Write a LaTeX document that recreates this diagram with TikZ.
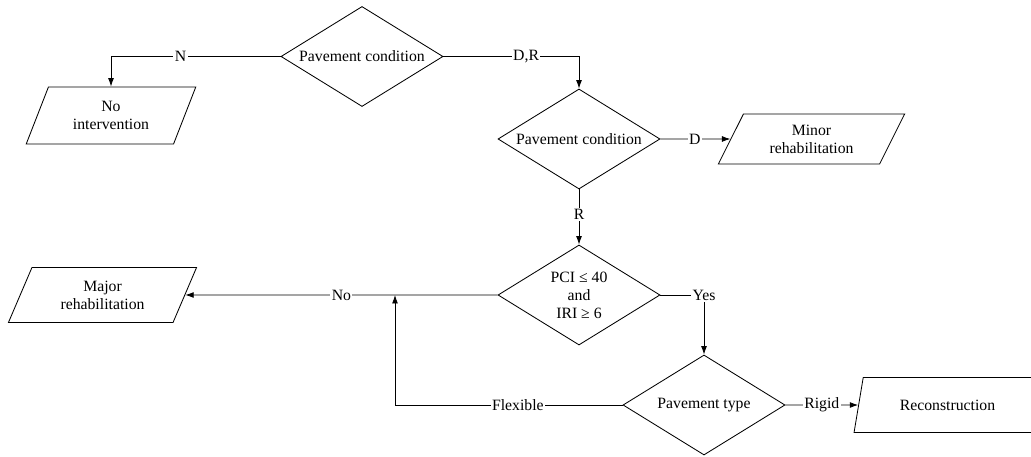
\documentclass[tikz,border=0pt]{standalone}
\usepackage{fontspec}
\setmainfont{Liberation Serif}
\usetikzlibrary{shapes.geometric,arrows.meta}

\begin{document}
\begin{tikzpicture}[x=0.025cm,y=-0.025cm,
  font=\fontsize{11.2}{12.8}\selectfont,
  line width=0.6pt,
  decision/.style={draw, diamond, aspect=1.6, inner sep=0pt, minimum width=4.05cm,
    minimum height=2.5cm, align=center},
  io/.style={draw, trapezium, trapezium stretches=true, inner sep=0pt, align=center},
  lbl/.style={fill=white, inner sep=1pt},
  arr/.style={-{Latex[length=6pt,width=4.2pt]}}]

\useasboundingbox (0,0) rectangle (1031,457);

% decisions
\node[decision] (cond1) at (362,56.5) {Pavement condition};
\node[decision] (cond2) at (579,139) {Pavement condition};
\node[decision] (cond3) at (579,295) {PCI ≤ 40\\and\\IRI ≥ 6};
\node[decision] (ptype) at (704,405) {Pavement type};

% outcomes
\node[io, minimum width=4.25cm, minimum height=1.425cm,
  trapezium left angle=64.6, trapezium right angle=115.4] (noint) at (111,115.5) {No\\intervention};
\node[io, minimum width=4.675cm, minimum height=1.25cm,
  trapezium left angle=61.6, trapezium right angle=118.4] (minor) at (811.5,139) {Minor\\rehabilitation};
\node[io, minimum width=4.725cm, minimum height=1.375cm,
  trapezium left angle=63.9, trapezium right angle=116.1] (major) at (102.5,295) {Major\\rehabilitation};
\node[io, minimum width=4.675cm, minimum height=1.375cm,
  trapezium left angle=63.9, trapezium right angle=116.1] (recon) at (947.5,405) {Reconstruction};

\coordinate (join) at (395,295);

% connectors
\draw[arr] (cond1.west) -- node[lbl,pos=0.59]{N} (noint.center |- cond1.west) -- (noint.center |- noint.north);
\draw[arr] (cond1.east) -- node[lbl,pos=0.61]{D,R} (cond2.north |- cond1.east) -- (cond2.north);
\draw[arr] (cond2.east) -- node[lbl,pos=0.49]{D} (minor);
\draw[arr] (cond2.south) -- node[lbl,pos=0.46]{R} (cond3.north);
\draw[arr] (cond3.west) -- node[lbl,pos=0.5]{No} (major);
\draw[arr] (cond3.east) -- (ptype.north |- cond3.east) node[lbl]{Yes} -- (ptype.north);
\draw[arr] (ptype.west) -- node[lbl,pos=0.46]{Flexible} (ptype.west -| join) -- (join);
\draw[arr] (ptype.east) -- node[lbl,pos=0.5]{Rigid} (recon);

\end{tikzpicture}
\end{document}
